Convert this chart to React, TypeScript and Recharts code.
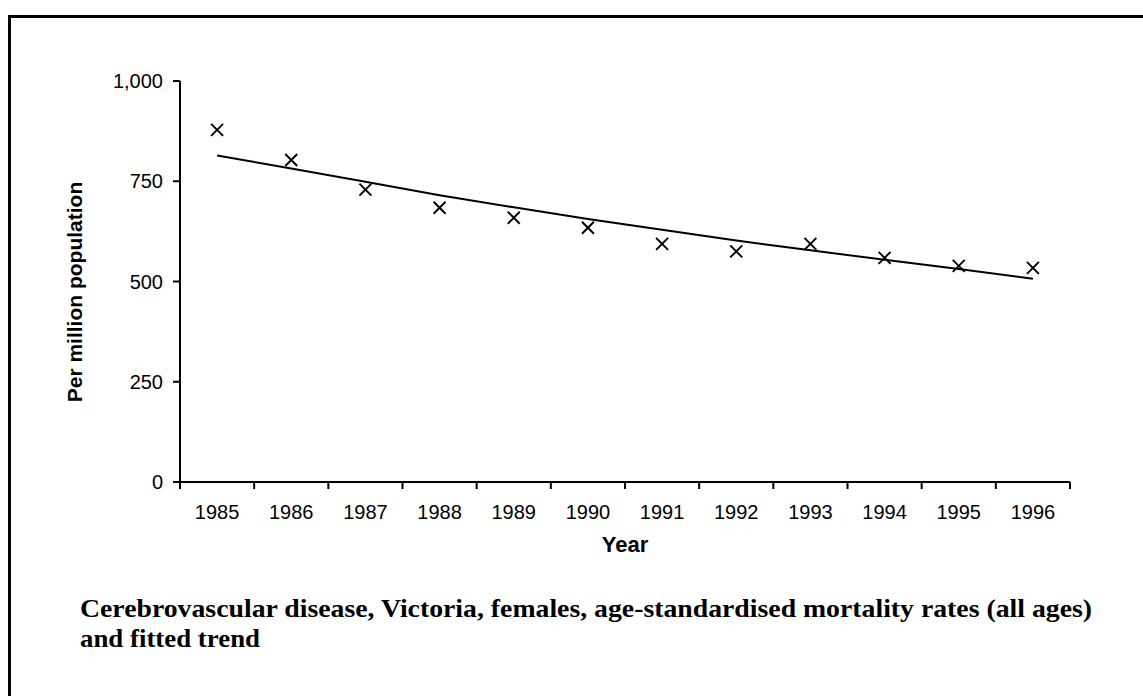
import React from 'react';
import { ComposedChart, Line, XAxis, YAxis, Label } from 'recharts';

const years = ['1985', '1986', '1987', '1988', '1989', '1990', '1991', '1992', '1993', '1994', '1995', '1996'];
const rates = [878, 803, 729, 684, 659, 634, 594, 575, 594, 559, 539, 534];
const trend = [814, 782, 749, 715, 685, 656, 629, 602, 578, 554, 531, 507];
const yTicks = [0, 250, 500, 750, 1000];

const captionLines = [
    'Cerebrovascular disease, Victoria, females, age-standardised mortality rates (all ages)',
    'and fitted trend',
];

const data = years.map((year, i) => ({ pos: i + 0.5, year, rate: rates[i], trend: trend[i] }));
const xTicks = [...years.map((_, i) => i), years.length];

const CHART_W = 1143;
const CHART_H = 560;
const MARGIN = { top: 81, right: 73, left: 120, bottom: 38 };
const Y_AXIS_W = 60;
const PLOT_W = CHART_W - MARGIN.left - MARGIN.right - Y_AXIS_W;
const HALF_BAND = PLOT_W / years.length / 2;

const axisFont = '"Liberation Sans", Arial, sans-serif';
const captionFont = '"Liberation Serif", "Times New Roman", serif';

const YearTick = (props: any) => {
    const { x, y, payload } = props;
    const label = years[payload.value];
    if (!label) return null;
    return (
        <text x={x + HALF_BAND} y={y} dy="0.71em" textAnchor="middle" fontSize={20} fontFamily={axisFont} fill="#000">
            {label}
        </text>
    );
};

const CrossDot = (props: any) => {
    const { cx, cy, index } = props;
    if (cx == null || cy == null) return null;
    const s = 6;
    return (
        <path
            key={`x-${index}`}
            d={`M${cx - s},${cy - s}L${cx + s},${cy + s}M${cx - s},${cy + s}L${cx + s},${cy - s}`}
            stroke="#000"
            strokeWidth={1.9}
            fill="none"
        />
    );
};

const YTitle = () => (
    <text
        x={82}
        y={292}
        transform="rotate(-90 82 292)"
        textAnchor="middle"
        fontSize={21}
        fontWeight="bold"
        fontFamily={axisFont}
        fill="#000"
    >
        Per million population
    </text>
);

export default function App() {
    return (
        <div style={{ position: 'absolute', left: 0, top: 0, width: 1143, height: 696, overflow: 'hidden', background: '#fff' }}>
            <div
                style={{
                    position: 'absolute',
                    left: 8,
                    top: 15,
                    width: 1200,
                    height: 800,
                    border: '3px solid #000',
                }}
            />
            <div style={{ position: 'absolute', left: 0, top: 0 }}>
                <ComposedChart width={CHART_W} height={CHART_H} data={data} margin={MARGIN}>
                    <XAxis
                        dataKey="pos"
                        type="number"
                        domain={[0, years.length]}
                        ticks={xTicks}
                        interval={0}
                        tick={<YearTick />}
                        tickSize={7}
                        tickMargin={16}
                        height={40}
                        axisLine={{ stroke: '#000', strokeWidth: 2 }}
                        tickLine={{ stroke: '#000', strokeWidth: 2 }}
                    >
                        <Label
                            value="Year"
                            position="bottom"
                            offset={14}
                            style={{ fontSize: 22, fontWeight: 'bold', fontFamily: axisFont, fill: '#000' }}
                        />
                    </XAxis>
                    <YAxis
                        type="number"
                        domain={[0, 1000]}
                        ticks={yTicks}
                        width={Y_AXIS_W}
                        tickSize={7}
                        tickMargin={10}
                        tickFormatter={(v: number) => v.toLocaleString('en-US')}
                        tick={{ fontSize: 20, fontFamily: axisFont, fill: '#000' }}
                        axisLine={{ stroke: '#000', strokeWidth: 2 }}
                        tickLine={{ stroke: '#000', strokeWidth: 2 }}
                    >
                        <Label content={<YTitle />} />
                    </YAxis>
                    <Line
                        dataKey="trend"
                        type="linear"
                        stroke="#000"
                        strokeWidth={2}
                        dot={false}
                        activeDot={false}
                        isAnimationActive={false}
                    />
                    <Line
                        dataKey="rate"
                        type="linear"
                        stroke="none"
                        dot={<CrossDot />}
                        activeDot={false}
                        isAnimationActive={false}
                    />
                </ComposedChart>
            </div>
            <svg width={1143} height={696} style={{ position: 'absolute', left: 0, top: 0, pointerEvents: 'none' }}>
                <text
                    x={80}
                    y={617}
                    fontSize={26}
                    fontWeight="bold"
                    fontFamily={captionFont}
                    textLength={1012}
                    lengthAdjust="spacingAndGlyphs"
                    fill="#000"
                >
                    {captionLines[0]}
                </text>
                <text
                    x={80}
                    y={647}
                    fontSize={26}
                    fontWeight="bold"
                    fontFamily={captionFont}
                    textLength={180}
                    lengthAdjust="spacingAndGlyphs"
                    fill="#000"
                >
                    {captionLines[1]}
                </text>
            </svg>
        </div>
    );
}
